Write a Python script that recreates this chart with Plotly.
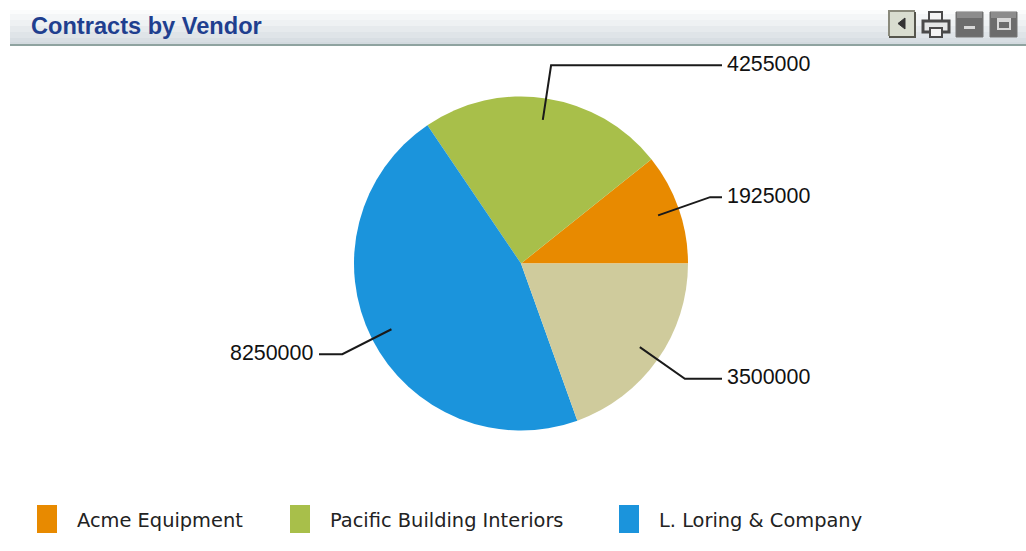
import math
import plotly.graph_objects as go

TITLE = "Contracts by Vendor"
SLICE_VALUES = [1925000, 4255000, 8250000, 3500000]
SLICE_COLORS = ["#E88A00", "#A8BF4A", "#1B94DC", "#CFCB9C"]
LEGEND_NAMES = ["Acme Equipment", "Pacific Building Interiors", "L. Loring & Company"]
LEGEND_COLORS = SLICE_COLORS[:3]

W, H = 1026, 551
CX, CY, R = 521, 263.5, 167

def px(x): return x / W
def py(y): return 1 - y / H

shapes, annotations = [], []

def rect(x0, y0, x1, y1, fill, line=None, lw=0):
    shapes.append(dict(type="rect", xref="paper", yref="paper", layer="above",
                       x0=px(x0), x1=px(x1), y0=py(y1), y1=py(y0),
                       fillcolor=fill, line=dict(color=line or fill, width=lw)))

def poly(points, color="#1a1a1a", width=2, fill=None):
    d = "M " + " L ".join(f"{px(a):.5f},{py(b):.5f}" for a, b in points)
    if fill:
        d += " Z"
    s = dict(type="path", xref="paper", yref="paper", layer="above", path=d,
             line=dict(color=color, width=width))
    if fill:
        s["fillcolor"] = fill
    shapes.append(s)

# header band gradient
stops = [(10, "#fbfcfc"), (14, "#f4f6f7"), (20, "#eef1f3"), (26, "#e6eaed"),
         (32, "#dfe4e8"), (38, "#d8dee3"), (42, "#d3dadf")]
for i, (y, c) in enumerate(stops):
    y1 = stops[i + 1][0] if i + 1 < len(stops) else 44
    rect(10, y, W, y1, c)
rect(10, 44, W, 46, "#8fa3a0")

annotations.append(dict(text=f"<b>{TITLE}</b>", xref="paper", yref="paper", showarrow=False,
                        x=px(28.5), y=py(26), xanchor="left", yanchor="middle",
                        font=dict(family="Liberation Sans", size=23.6, color="#1F3F8F")))

# header icons
rect(889, 11, 915, 36, "#d9ddd0")
poly([(889, 36), (889, 11), (915, 11)], "#8a8a7c", 2)
poly([(889, 37), (915, 37), (915, 12)], "#55554c", 2)
poly([(905, 18), (898, 23.5), (905, 29)], "#333", 1, "#333")
# printer
rect(929, 12, 942, 24, "#f4f4f4", "#4a4a4a", 2)
rect(923, 21, 949, 32, "#e4e6e6", "#4a4a4a", 3)
rect(930, 28, 942, 37, "#f4f4f4", "#4a4a4a", 2)
# window buttons
for x0 in (956, 990):
    rect(x0, 12, x0 + 27, 37, "#6c6c6c", "#747474", 1)
    rect(x0 + 1, 12, x0 + 26, 18, "#8c8c8c")
rect(964, 26, 975, 29, "#d8d8d8")
rect(997, 18, 1011, 30, "#d8d8d8")
rect(999, 22, 1009, 28, "#6c6c6c")

# callouts, placed from the slice angles
total = sum(SLICE_VALUES)
cum = 0
for v in SLICE_VALUES:
    mid = math.radians((cum + v / 2) / total * 360)
    cum += v
    c, s = math.cos(mid), math.sin(mid)
    a = (CX + 0.87 * R * c, CY - 0.87 * R * s)
    b = (CX + 1.2 * R * c, CY - 1.2 * R * s)
    right = c > 0
    end = (722 if right else 319, b[1])
    poly([a, b, end], "#1a1a1a", 2)
    annotations.append(dict(text=str(v), xref="paper", yref="paper", showarrow=False,
                            x=px(725 if right else 315), y=py(b[1] - 1.5),
                            xanchor="left" if right else "right", yanchor="middle",
                            font=dict(family="Liberation Sans", size=21.4, color="#111")))

# legend
swatch_x = [37, 290, 619]
for name, col, x in zip(LEGEND_NAMES, LEGEND_COLORS, swatch_x):
    rect(x, 505, x + 20, 533, col)
    annotations.append(dict(text=name, xref="paper", yref="paper", showarrow=False,
                            x=px(x + 38), y=py(520), xanchor="left", yanchor="middle",
                            font=dict(family="DejaVu Sans", size=19.4, color="#222")))

# Plotly lays a counterclockwise pie out so the first slice ends at `rotation`
first_share = SLICE_VALUES[0] / total * 360
fig = go.Figure(go.Pie(values=SLICE_VALUES, marker=dict(colors=SLICE_COLORS, line=dict(width=0)),
                       sort=False, direction="counterclockwise", rotation=90 - first_share,
                       textinfo="none", hoverinfo="none", showlegend=False,
                       domain=dict(x=[px(CX - R), px(CX + R)], y=[py(CY + R), py(CY - R)])))
fig.update_layout(width=W, height=H, margin=dict(l=0, r=0, t=0, b=0, autoexpand=False),
                  paper_bgcolor="#ffffff", plot_bgcolor="#ffffff",
                  shapes=shapes, annotations=annotations, showlegend=False)
fig.write_html("out.html", config=dict(displayModeBar=False),
               post_script="document.body.style.margin='0';document.body.style.overflow='hidden';")
